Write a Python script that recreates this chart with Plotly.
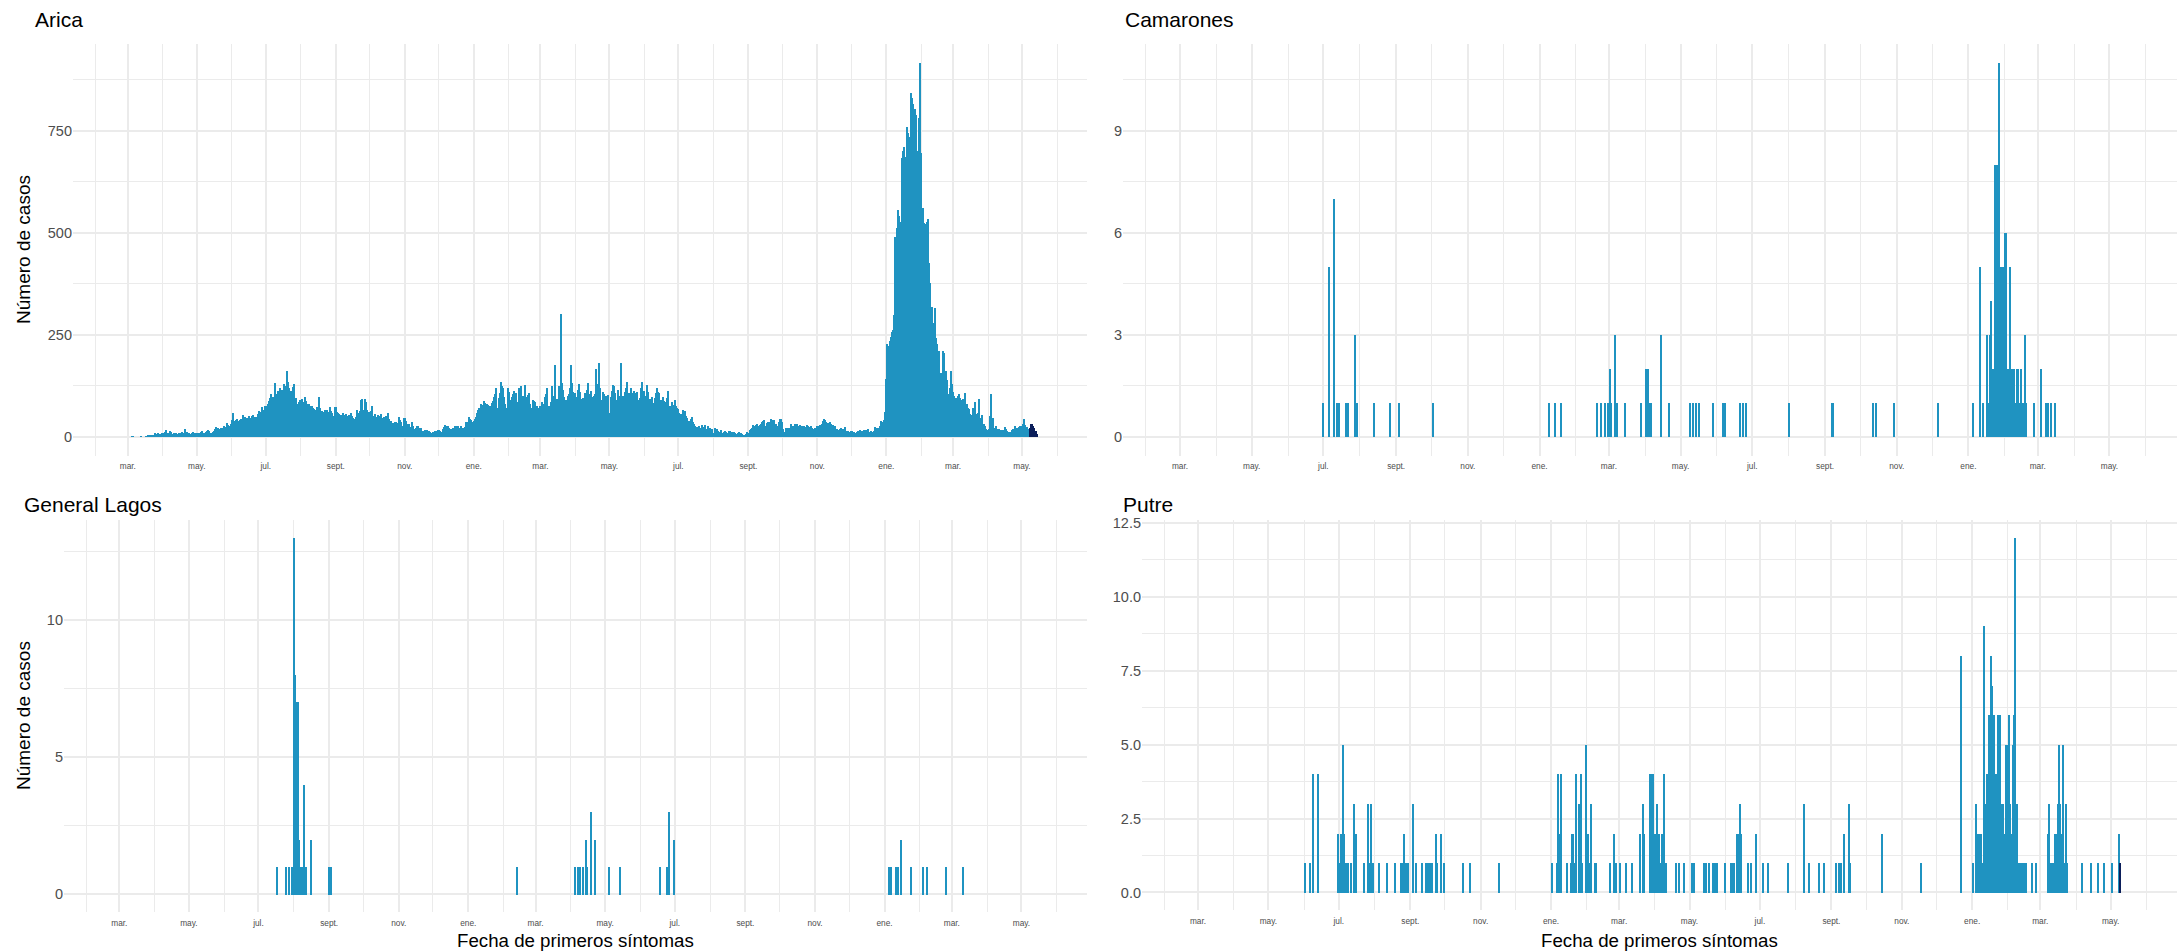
import pandas as pd
import plotly.graph_objects as go

# ---------------- data ----------------
# Arica: daily cases, starting 2020-03-05
arica_2020_start = "2020-03-05"
arica_2020 = [
    # mar (from 5th)
    1,1,0,0,0,0,0,0,1,0,0,0,1,0,2,2,3,2,4,5,8,6,5,9,7,6,10,
    # apr
    9,7,12,16,10,8,15,11,7,6,9,8,10,7,8,9,6,12,10,8,18,11,9,10,7,6,9,12,10,8,
    # may
    9,6,10,8,12,14,9,7,11,15,16,13,10,9,12,14,18,23,20,22,19,21,22,20,25,18,24,34,28,26,30,
    # jun
    40,59,38,39,40,42,38,41,44,39,53,36,48,46,41,51,45,43,50,53,49,47,45,55,62,58,60,73,66,75,
    # jul
    72,75,80,88,95,105,98,92,132,100,105,113,108,120,115,110,130,93,125,161,134,118,113,110,122,130,87,95,81,85,89,
    # aug
    77,91,85,80,97,88,81,81,76,73,75,70,68,66,72,63,97,70,57,62,60,65,58,66,60,55,73,62,58,50,73,
    # sep
    73,60,57,55,50,54,57,52,48,55,49,51,54,57,50,46,44,42,48,65,58,63,89,92,65,63,93,84,66,61,
    # oct
    57,62,74,50,43,55,47,52,48,51,55,40,45,48,51,44,59,43,35,38,31,33,36,37,28,34,47,41,36,27,45,
    # nov
    45,39,28,31,30,23,37,25,15,19,22,25,27,22,20,13,15,11,17,14,16,15,12,10,9,12,11,15,13,17,
    # dec
    17,14,12,11,18,23,29,25,27,20,18,15,19,22,27,24,26,25,16,20,27,20,22,23,37,30,37,47,44,41,35,
]
arica_2021_start = "2021-01-01"
arica_2021 = [
    # jan
    39,44,49,59,65,71,80,77,74,88,82,74,80,77,74,75,82,88,96,105,118,69,95,106,134,125,118,96,80,69,120,
    # feb
    110,90,69,96,105,112,108,85,69,118,120,124,75,100,126,92,98,101,106,80,69,90,88,85,69,75,71,51,
    # mar
    75,86,80,71,98,105,118,63,75,84,123,100,85,175,90,93,124,110,300,132,115,96,82,90,100,104,120,175,132,110,92,
    # apr
    106,98,114,128,110,92,84,95,108,108,115,132,96,105,112,96,100,104,166,130,124,181,120,89,110,105,100,96,100,101,
    # may
    57,97,112,127,124,106,90,67,114,100,181,92,100,84,110,120,135,106,108,118,108,100,112,106,110,90,74,95,120,135,112,
    # jun
    112,100,126,110,84,92,90,96,82,95,106,118,110,108,84,90,96,88,85,80,95,112,63,75,84,67,78,90,74,70,
    # jul
    67,59,55,51,66,60,63,50,45,39,39,43,47,35,31,27,23,24,25,6,22,29,19,24,29,19,25,20,22,17,19,
    # aug
    9,21,18,19,15,12,10,16,9,12,13,12,10,5,15,13,11,12,11,8,6,7,8,11,9,6,4,5,2,7,11,
    # sep
    9,17,19,22,29,26,25,28,30,27,28,32,35,38,41,27,33,37,28,35,43,40,37,41,30,23,27,35,43,43,
    # oct
    35,19,11,20,18,20,22,20,31,25,20,31,28,31,23,26,29,25,27,27,24,20,28,25,23,27,22,17,19,20,20,
    # nov
    27,25,28,28,32,39,43,40,37,33,31,35,30,28,28,25,27,19,17,15,18,20,15,19,23,12,14,15,11,8,
    # dec
    15,14,11,10,9,12,15,13,16,14,15,17,16,15,17,19,11,15,6,12,14,23,21,19,20,25,39,37,36,41,61,
]
arica_2022_start = "2022-01-01"
arica_2022 = [
    # jan
    140,226,222,235,244,257,262,297,488,510,554,540,526,453,683,700,709,684,759,745,733,542,841,830,815,802,787,700,627,780,916,
    # feb
    696,560,524,522,520,526,532,425,377,317,278,244,315,242,226,197,209,157,120,209,205,140,161,139,104,120,161,128,
    # mar
    110,100,92,95,100,104,95,89,80,93,93,106,80,71,67,55,47,53,70,84,53,55,58,93,45,35,53,30,25,19,17,
    # apr
    15,19,50,104,45,22,20,25,19,19,19,17,16,16,16,23,18,15,12,12,12,17,19,19,25,19,21,23,27,27,
    # may (1-7)
    27,30,43,28,23,15,19,
]
# most recent (incomplete) days, drawn in dark colour
arica_recent_start = "2022-05-08"
arica_recent = [22, 32, 30, 26, 20, 14, 7]

camarones_dates = [
    "2020-07-01","2020-07-06","2020-07-10","2020-07-13","2020-07-14","2020-07-20","2020-07-22","2020-07-28",
    "2020-07-30","2020-08-13","2020-08-27","2020-09-03","2020-10-02",
    "2021-01-09","2021-01-14","2021-01-19","2021-02-19","2021-02-22","2021-02-26","2021-02-28","2021-03-02",
    "2021-03-03","2021-03-06","2021-03-08","2021-03-15","2021-03-28","2021-04-02","2021-04-03","2021-04-04",
    "2021-04-06","2021-04-14","2021-04-21","2021-05-09","2021-05-12","2021-05-14","2021-05-17","2021-05-29",
    "2021-06-06","2021-06-08","2021-06-21","2021-06-23","2021-06-26","2021-08-01","2021-09-07","2021-09-08",
    "2021-10-12","2021-10-14","2021-10-30","2021-12-06",
    "2022-01-05","2022-01-11","2022-01-13","2022-01-17","2022-01-18","2022-01-19","2022-01-20","2022-01-21",
    "2022-01-22","2022-01-23","2022-01-24","2022-01-25","2022-01-26","2022-01-27","2022-01-28","2022-01-29",
    "2022-01-30","2022-01-31","2022-02-01","2022-02-02","2022-02-03","2022-02-04","2022-02-05","2022-02-06",
    "2022-02-07","2022-02-08","2022-02-09","2022-02-10","2022-02-11","2022-02-12","2022-02-13","2022-02-15",
    "2022-02-16","2022-02-17","2022-02-18","2022-02-19","2022-02-26","2022-03-04","2022-03-08","2022-03-10",
    "2022-03-12","2022-03-16",
]
camarones_values = [
    1,5,7,1,1,1,1,3,
    1,1,1,1,1,
    1,1,1,1,1,1,1,2,
    1,3,1,1,1,2,2,1,
    1,3,1,1,1,1,1,1,
    1,1,1,1,1,1,1,1,
    1,1,1,1,
    1,5,1,3,1,3,4,1,
    2,1,8,8,1,11,5,1,
    5,5,6,6,1,2,5,1,
    2,1,2,1,2,2,1,2,
    1,1,3,1,1,2,1,1,
    1,1,
]

general_lagos_dates = [
    "2020-07-17","2020-07-25","2020-07-28","2020-07-30","2020-08-01","2020-08-02","2020-08-03","2020-08-04",
    "2020-08-05","2020-08-06","2020-08-07","2020-08-08","2020-08-10","2020-08-11","2020-08-12","2020-08-16",
    "2020-09-01","2020-09-03",
    "2021-02-13","2021-04-05","2021-04-07","2021-04-09","2021-04-12","2021-04-14","2021-04-15","2021-04-19",
    "2021-04-22","2021-05-04","2021-05-14","2021-06-18","2021-06-24","2021-06-26","2021-06-30",
    "2022-01-05","2022-01-07","2022-01-11","2022-01-13","2022-01-15","2022-01-24","2022-02-04","2022-02-07",
    "2022-02-24","2022-03-11",
]
general_lagos_values = [
    1,1,1,1,13,8,5,7,
    7,2,1,1,4,1,1,2,
    1,1,
    1,1,1,1,1,2,1,3,
    2,1,1,1,1,3,2,
    1,1,1,1,2,1,1,1,
    1,1,
]

putre_dates = [
    "2020-06-02","2020-06-06","2020-06-09","2020-06-13","2020-06-30","2020-07-02","2020-07-03","2020-07-04",
    "2020-07-05","2020-07-06","2020-07-07","2020-07-09","2020-07-12","2020-07-14","2020-07-15","2020-07-16",
    "2020-07-23","2020-07-26","2020-07-27","2020-07-29","2020-07-31","2020-08-05","2020-08-12","2020-08-19",
    "2020-08-24","2020-08-25","2020-08-27","2020-08-28","2020-08-30","2020-09-03","2020-09-06","2020-09-11",
    "2020-09-15","2020-09-16","2020-09-18","2020-09-20","2020-09-23","2020-09-24","2020-09-28","2020-09-30",
    "2020-10-17","2020-10-23","2020-11-17",
    "2021-01-02","2021-01-06","2021-01-07","2021-01-09","2021-01-10","2021-01-15","2021-01-18","2021-01-19",
    "2021-01-20","2021-01-22","2021-01-23","2021-01-25","2021-01-27","2021-01-28","2021-01-31","2021-02-02",
    "2021-02-04","2021-02-05","2021-02-08","2021-02-09","2021-02-21","2021-02-25","2021-02-26","2021-03-02",
    "2021-03-07","2021-03-12","2021-03-19","2021-03-22","2021-03-23","2021-03-28","2021-03-29","2021-03-30",
    "2021-03-31","2021-04-01","2021-04-02","2021-04-03","2021-04-04","2021-04-05","2021-04-06","2021-04-07",
    "2021-04-09","2021-04-10","2021-04-11","2021-04-19","2021-04-22","2021-04-26","2021-05-03","2021-05-05",
    "2021-05-14","2021-05-15","2021-05-18","2021-05-21","2021-05-23","2021-05-25","2021-06-01","2021-06-06",
    "2021-06-08","2021-06-09","2021-06-11","2021-06-13","2021-06-14","2021-06-15","2021-06-21","2021-06-23",
    "2021-06-28","2021-07-04","2021-07-08","2021-07-25","2021-08-08","2021-08-13","2021-08-21","2021-08-26",
    "2021-09-05","2021-09-08","2021-09-09","2021-09-12","2021-09-16","2021-09-17","2021-10-15","2021-11-18",
    "2021-12-22",
    "2022-01-02","2022-01-04","2022-01-06","2022-01-07","2022-01-08","2022-01-09","2022-01-10","2022-01-11",
    "2022-01-12","2022-01-13","2022-01-14","2022-01-15","2022-01-16","2022-01-17","2022-01-18","2022-01-19",
    "2022-01-20","2022-01-21","2022-01-22","2022-01-23","2022-01-24","2022-01-25","2022-01-26","2022-01-27",
    "2022-01-28","2022-01-29","2022-01-30","2022-01-31","2022-02-01","2022-02-02","2022-02-03","2022-02-04",
    "2022-02-05","2022-02-06","2022-02-07","2022-02-08","2022-02-09","2022-02-10","2022-02-11","2022-02-12",
    "2022-02-13","2022-02-15","2022-02-16","2022-02-17","2022-02-22","2022-02-25","2022-03-08","2022-03-09",
    "2022-03-10","2022-03-12","2022-03-14","2022-03-15","2022-03-16","2022-03-17","2022-03-18","2022-03-19",
    "2022-03-20","2022-03-21","2022-03-22","2022-03-23","2022-03-24","2022-04-06","2022-04-14","2022-04-20",
    "2022-04-25","2022-05-02","2022-05-08",
]
putre_values = [
    1,1,4,4,2,1,2,2,
    5,2,1,1,1,3,2,2,
    1,3,1,3,1,1,1,1,
    1,1,2,1,1,3,1,1,
    1,1,1,1,2,1,2,1,
    1,1,1,
    1,1,4,2,4,1,1,2,
    2,1,4,3,4,1,5,2,
    1,3,1,1,1,2,1,1,
    1,1,2,3,2,4,4,4,
    1,2,1,3,1,2,1,2,
    4,1,1,1,1,1,1,1,
    1,1,1,1,1,1,1,1,
    1,1,2,2,3,2,1,1,
    2,1,1,1,3,1,1,1,
    1,1,1,2,3,1,2,1,
    8,
    1,3,2,2,2,2,1,9,
    3,1,4,1,6,8,7,3,
    6,3,4,6,3,6,3,1,
    3,2,5,5,5,6,3,2,
    5,6,12,3,3,1,1,1,
    1,1,1,1,1,1,2,3,
    1,1,2,2,3,5,3,1,
    2,5,1,3,1,1,1,1,
    1,1,2,
]
putre_recent_dates = ["2022-05-09"]
putre_recent_values = [1]

# month ticks
tick_dates = ["2020-03-01","2020-05-01","2020-07-01","2020-09-01","2020-11-01",
              "2021-01-01","2021-03-01","2021-05-01","2021-07-01","2021-09-01","2021-11-01",
              "2022-01-01","2022-03-01","2022-05-01"]
tick_labels = ["mar.","may.","jul.","sept.","nov.","ene.","mar.","may.","jul.","sept.","nov.",
               "ene.","mar.","may."]
minor_dates = ["2020-02-01","2020-04-01","2020-06-01","2020-08-01","2020-10-01","2020-12-01",
               "2021-02-01","2021-04-01","2021-06-01","2021-08-01","2021-10-01","2021-12-01",
               "2022-02-01","2022-04-01","2022-06-01"]

panel_titles = ["Arica", "Camarones", "General Lagos", "Putre"]
y_title = "Número de casos"
x_title = "Fecha de primeros síntomas"

# ---------------- figure ----------------
W, H = 2178, 951
BAR = "#1F93C1"
DARK = "#0B1E5A"
DAY_MS = 86400000
FONT = "Liberation Sans, Arial, sans-serif"

def fx(p):
    return p / W

def fy(p):
    return 1 - p / H

arica_dates = (list(pd.date_range(arica_2020_start, periods=len(arica_2020), freq="D"))
               + list(pd.date_range(arica_2021_start, periods=len(arica_2021), freq="D"))
               + list(pd.date_range(arica_2022_start, periods=len(arica_2022), freq="D")))
arica_vals = arica_2020 + arica_2021 + arica_2022
arica_recent_dates = list(pd.date_range(arica_recent_start, periods=len(arica_recent), freq="D"))

fig = go.Figure()

def add_bars(x, y, color, n):
    fig.add_trace(go.Bar(x=x, y=y, marker=dict(color=color, line=dict(width=0)),
                         width=0.9 * DAY_MS, xaxis="x" + ("" if n == 1 else str(n)),
                         yaxis="y" + ("" if n == 1 else str(n)), showlegend=False,
                         hoverinfo="x+y"))

add_bars(arica_dates, arica_vals, BAR, 1)
add_bars(arica_recent_dates, arica_recent, DARK, 1)
add_bars(pd.to_datetime(camarones_dates), camarones_values, BAR, 2)
add_bars(pd.to_datetime(general_lagos_dates), general_lagos_values, BAR, 3)
add_bars(pd.to_datetime(putre_dates), putre_values, BAR, 4)
add_bars(pd.to_datetime(putre_recent_dates), putre_recent_values, DARK, 4)

# panel geometry in page pixels: (left, right, top, bottom)
panels = {
    1: (73, 1087, 39.5, 453),
    2: (1123, 2177, 39.5, 453),
    3: (64, 1087, 517.5, 912),
    4: (1142, 2177, 517.5, 910),
}
yspecs = {
    1: dict(range=[-45.8, 961.8], tickvals=[0, 250, 500, 750], ticktext=["0", "250", "500", "750"], minor=125),
    2: dict(range=[-0.55, 11.55], tickvals=[0, 3, 6, 9], ticktext=["0", "3", "6", "9"], minor=1.5),
    3: dict(range=[-0.65, 13.65], tickvals=[0, 5, 10], ticktext=["0", "5", "10"], minor=2.5),
    4: dict(range=[-0.6, 12.6], tickvals=[0, 2.5, 5, 7.5, 10, 12.5],
            ticktext=["0.0", "2.5", "5.0", "7.5", "10.0", "12.5"], minor=1.25),
}
GRID = "#EBEBEB"
layout = dict(
    width=W, height=H, margin=dict(l=0, r=0, t=0, b=0),
    paper_bgcolor="white", plot_bgcolor="white", bargap=0,
    font=dict(family=FONT, color="#000000"),
    showlegend=False, hovermode=False,
)
for n, (l, r, t, b) in panels.items():
    sfx = "" if n == 1 else str(n)
    ys = yspecs[n]
    layout["xaxis" + sfx] = dict(
        domain=[fx(l), fx(r)], anchor="y" + sfx, type="date",
        range=["2020-01-12 12:00", "2022-06-27 12:00"],
        tickmode="array", tickvals=tick_dates, ticktext=tick_labels,
        tickfont=dict(size=8.3, color="#4D4D4D", family=FONT),
        showgrid=True, gridcolor=GRID, gridwidth=2, zeroline=False, showline=False,
        ticks="", ticklabelstandoff=4,
        minor=dict(tickmode="array", tickvals=minor_dates, showgrid=True, gridcolor=GRID, gridwidth=1),
        fixedrange=True,
    )
    minor_vals = []
    k = 0
    while k * ys["minor"] <= ys["range"][1]:
        minor_vals.append(k * ys["minor"])
        k += 1
    layout["yaxis" + sfx] = dict(
        domain=[fy(b), fy(t)], anchor="x" + sfx, range=ys["range"],
        tickmode="array", tickvals=ys["tickvals"], ticktext=ys["ticktext"],
        tickfont=dict(size=14.5, color="#4D4D4D", family=FONT),
        showgrid=True, gridcolor=GRID, gridwidth=2, zeroline=False, showline=False,
        ticks="", ticklabelstandoff=0,
        minor=dict(tickmode="array", tickvals=minor_vals, showgrid=True, gridcolor=GRID, gridwidth=1),
        fixedrange=True,
    )

annotations = []
title_pos = [(33, 15), (1123, 15), (22, 502), (1121, 502)]
for name, (xp, yp) in zip(panel_titles, title_pos):
    annotations.append(dict(text=name, x=fx(xp), y=fy(yp), xref="paper", yref="paper",
                            xanchor="left", yanchor="middle", showarrow=False,
                            font=dict(size=21, color="#000000", family=FONT)))
for yc in [(39.5 + 453) / 2, (517.5 + 912) / 2]:
    annotations.append(dict(text=y_title, x=fx(24), y=fy(yc), xref="paper", yref="paper",
                            xanchor="center", yanchor="middle", textangle=-90, showarrow=False,
                            font=dict(size=19, color="#000000", family=FONT)))
for xc in [(64 + 1087) / 2, (1142 + 2177) / 2]:
    annotations.append(dict(text=x_title, x=fx(xc), y=fy(940), xref="paper", yref="paper",
                            xanchor="center", yanchor="middle", showarrow=False,
                            font=dict(size=18.7, color="#000000", family=FONT)))
layout["annotations"] = annotations
fig.update_layout(**layout)
# remove the default 8px page margin so the figure sits at the window's corner
fig.write_html("out.html", config={"displayModeBar": False},
               post_script="document.body.style.margin='0px';")
